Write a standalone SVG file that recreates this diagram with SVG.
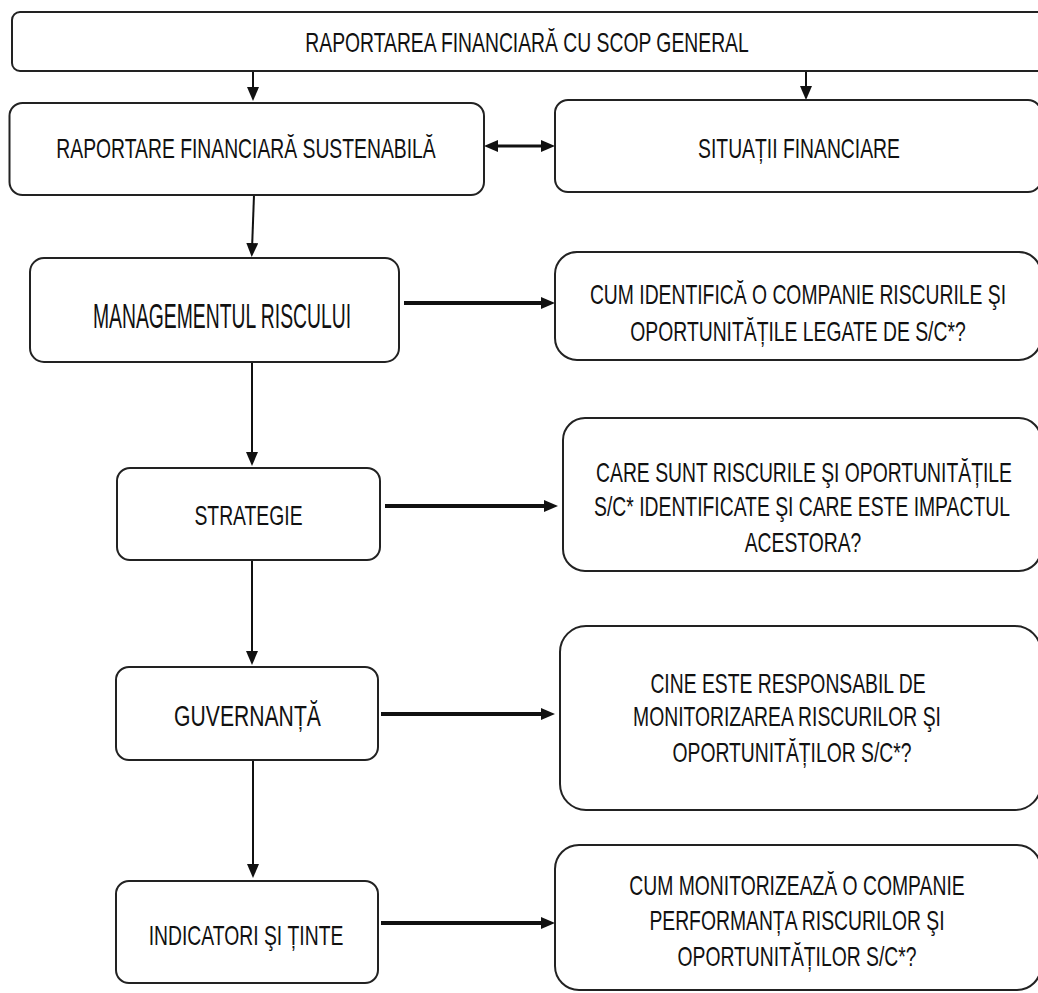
<svg xmlns="http://www.w3.org/2000/svg" width="1038" height="993" viewBox="0 0 1038 993">
<style>
.box{fill:#fff;stroke:#222;stroke-width:2}
.t{font-family:"Liberation Sans",Arial,sans-serif;font-size:27px;fill:#111;text-anchor:middle}
.c{fill:none;stroke:#111}
.thin{stroke-width:2}
.thick{stroke-width:4}
.mid{stroke-width:3}
</style>
<defs>
<marker id="ah" viewBox="0 0 14 12" refX="1" refY="6" markerWidth="14" markerHeight="12" markerUnits="userSpaceOnUse" orient="auto-start-reverse">
<path d="M0,0 L14,6 L0,12 z" fill="#111"/>
</marker>
</defs>
<rect width="1038" height="993" fill="#fff"/>
<g id="connectors">
<line class="c thin" x1="253" y1="71" x2="253" y2="88" marker-end="url(#ah)"/>
<line class="c thin" x1="806" y1="71" x2="806" y2="87" marker-end="url(#ah)"/>
<line class="c mid" x1="497" y1="146" x2="542" y2="146" marker-start="url(#ah)" marker-end="url(#ah)"/>
<line class="c thin" x1="254" y1="195" x2="252.2" y2="244" marker-end="url(#ah)"/>
<line class="c thin" x1="252" y1="362" x2="252" y2="453" marker-end="url(#ah)"/>
<line class="c thin" x1="252" y1="560" x2="252" y2="652" marker-end="url(#ah)"/>
<line class="c thin" x1="253" y1="760" x2="253" y2="865" marker-end="url(#ah)"/>
<line class="c thick" x1="404" y1="303" x2="542" y2="303" marker-end="url(#ah)"/>
<line class="c thick" x1="385" y1="506" x2="545" y2="506" marker-end="url(#ah)"/>
<line class="c thick" x1="381" y1="714" x2="542" y2="714" marker-end="url(#ah)"/>
<line class="c thick" x1="381" y1="923" x2="542" y2="923" marker-end="url(#ah)"/>
</g>
<g id="n-general">
<rect class="box" x="12" y="12" width="1040" height="59" rx="8"/>
<text class="t" transform="translate(527,52) scale(0.716,1)">RAPORTAREA FINANCIARĂ CU SCOP GENERAL</text>
</g>
<g id="n-sustenabila">
<rect class="box" x="9.5" y="103" width="474.5" height="92" rx="13"/>
<text class="t" transform="translate(246,158) scale(0.716,1)">RAPORTARE FINANCIARĂ SUSTENABILĂ</text>
</g>
<g id="n-situatii">
<rect class="box" x="555" y="100" width="486" height="92" rx="13"/>
<text class="t" transform="translate(799,158) scale(0.716,1)">SITUAȚII FINANCIARE</text>
</g>
<g id="n-management">
<rect class="box" x="30" y="258" width="369" height="104" rx="14"/>
<text class="t" transform="translate(222,328) scale(0.716,1.3)">MANAGEMENTUL RISCULUI</text>
</g>
<g id="n-cum-identifica">
<rect class="box" x="555" y="252" width="486" height="108" rx="22"/>
<text class="t" transform="translate(798,304) scale(0.716,1)">CUM IDENTIFICĂ O COMPANIE RISCURILE ŞI</text>
<text class="t" transform="translate(798,341) scale(0.716,1)">OPORTUNITĂȚILE LEGATE DE S/C*?</text>
</g>
<g id="n-strategie">
<rect class="box" x="117" y="468" width="263" height="92" rx="13"/>
<text class="t" transform="translate(248.5,525) scale(0.716,1.05)">STRATEGIE</text>
</g>
<g id="n-care-sunt">
<rect class="box" x="563" y="418" width="478" height="153" rx="22"/>
<text class="t" transform="translate(804,482) scale(0.716,1)">CARE SUNT RISCURILE ŞI OPORTUNITĂȚILE</text>
<text class="t" transform="translate(802,516) scale(0.716,1)">S/C* IDENTIFICATE ŞI CARE ESTE IMPACTUL</text>
<text class="t" transform="translate(803,552) scale(0.716,1)">ACESTORA?</text>
</g>
<g id="n-guvernanta">
<rect class="box" x="116" y="667" width="262" height="93" rx="13"/>
<text class="t" style="font-size:30px" transform="translate(247.5,726) scale(0.705,1)">GUVERNANȚĂ</text>
</g>
<g id="n-cine">
<rect class="box" x="560" y="626" width="481" height="184" rx="26"/>
<text class="t" transform="translate(788,693) scale(0.716,1)">CINE ESTE RESPONSABIL DE</text>
<text class="t" transform="translate(787,726) scale(0.716,1)">MONITORIZAREA RISCURILOR ŞI</text>
<text class="t" transform="translate(792,762) scale(0.716,1)">OPORTUNITĂȚILOR S/C*?</text>
</g>
<g id="n-indicatori">
<rect class="box" x="116" y="881" width="262" height="102" rx="13"/>
<text class="t" transform="translate(246,945) scale(0.716,1)">INDICATORI ŞI ȚINTE</text>
</g>
<g id="n-cum-monitorizeaza">
<rect class="box" x="555" y="845" width="486" height="145" rx="24"/>
<text class="t" transform="translate(797,895) scale(0.716,1)">CUM MONITORIZEAZĂ O COMPANIE</text>
<text class="t" transform="translate(797,930) scale(0.716,1)">PERFORMANȚA RISCURILOR ŞI</text>
<text class="t" transform="translate(797,966) scale(0.716,1)">OPORTUNITĂȚILOR S/C*?</text>
</g>
</svg>
